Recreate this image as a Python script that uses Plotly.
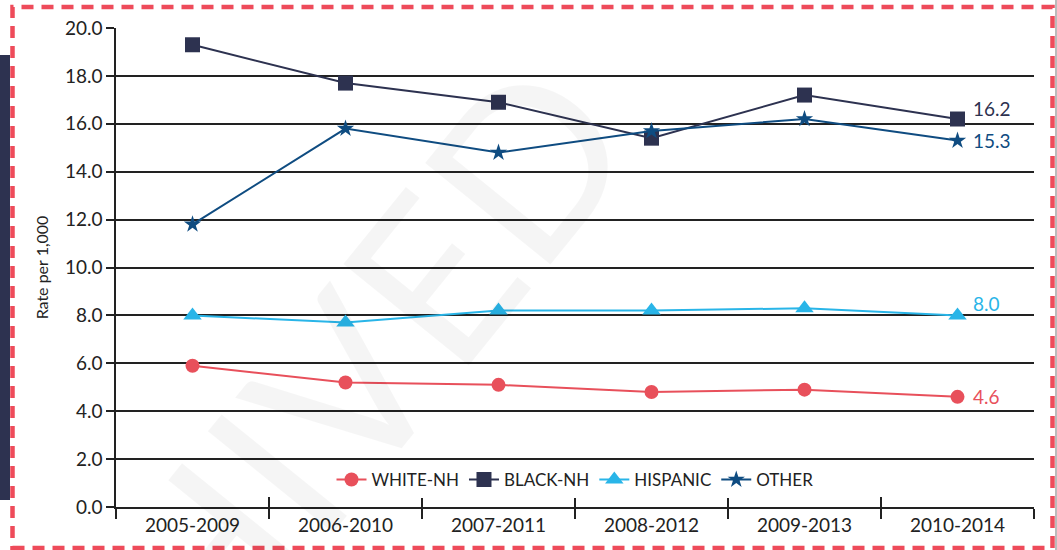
import plotly.graph_objects as go

categories = ["2005-2009", "2006-2010", "2007-2011", "2008-2012", "2009-2013", "2010-2014"]
white_nh = [5.9, 5.2, 5.1, 4.8, 4.9, 4.6]
black_nh = [19.3, 17.7, 16.9, 15.4, 17.2, 16.2]
hispanic = [8.0, 7.7, 8.2, 8.2, 8.3, 8.0]
other = [11.8, 15.8, 14.8, 15.7, 16.2, 15.3]
y_ticks = [0, 2, 4, 6, 8, 10, 12, 14, 16, 18, 20]

W, H = 1057, 550
ML, MR, MT, MB = 116, 23, 28, 43
PW, PH = W - ML - MR, H - MT - MB
FONT = "Lato"
INK = "#222222"

series = [
    ("WHITE-NH", white_nh, "#E8505B", "circle", 14, 0),
    ("BLACK-NH", black_nh, "#2D3250", "square", 15, 11),
    ("HISPANIC", hispanic, "#29B5E8", "triangle-up", 16, 12),
    ("OTHER", other, "#0F4C81", "star", 13, 0),
]

fig = go.Figure()
for name, vals, col, sym, size, _ in series:
    fig.add_trace(go.Scatter(
        x=categories, y=vals, name=name, mode="lines+markers",
        line=dict(color=col, width=2),
        marker=dict(symbol=sym, size=size, color=col),
    ))

# helper trace for the inside half of the x ticks
fig.add_trace(go.Scatter(x=categories, y=[None] * len(categories), xaxis="x2",
                         showlegend=False, hoverinfo="skip", mode="lines"))

annotations = []
for name, vals, col, sym, size, ysh in series:
    annotations.append(dict(
        x=categories[-1], y=vals[-1], xref="x", yref="y",
        text=f"{vals[-1]:.1f}", showarrow=False, xanchor="left", yanchor="middle",
        xshift=13, yshift=ysh, font=dict(family=FONT, size=19, color=col),
    ))

def px(x):
    return (x - ML) / PW

def py(y):
    return (H - MB - y) / PH

# faint watermark
annotations.append(dict(
    x=px(222), y=py(532), xref="paper", yref="paper", text="ARCHIVED",
    showarrow=False, textangle=-51, font=dict(family=FONT, size=225, color="rgba(0,0,0,0.04)"),
    xanchor="center", yanchor="middle",
))

shapes = [
    dict(type="rect", xref="paper", yref="paper", x0=px(0), x1=px(10), y0=py(500), y1=py(55),
         fillcolor="#2D3250", line=dict(width=0), layer="below"),
    dict(type="rect", xref="paper", yref="paper", x0=px(12.5), x1=px(1052.5), y0=py(548), y1=py(7),
         fillcolor="rgba(0,0,0,0)", line=dict(color="#EE4B5A", width=4.5, dash="12px,8px")),
    dict(type="line", xref="paper", yref="paper", x0=px(1056), x1=px(1056), y0=py(550), y1=py(0),
         line=dict(color="#bbbbbb", width=2)),
]

fig.update_layout(
    width=W, height=H,
    margin=dict(l=ML, r=MR, t=MT, b=MB),
    paper_bgcolor="white", plot_bgcolor="white",
    font=dict(family=FONT, size=19, color=INK),
    showlegend=True,
    legend=dict(orientation="h", x=0.5, xanchor="center", y=py(480), yanchor="middle",
                bgcolor="white", font=dict(family=FONT, size=17, color=INK),
                itemwidth=30, tracegroupgap=0),
    xaxis=dict(type="category", categoryarray=categories, range=[-0.5, len(categories) - 0.5],
               showgrid=False, showline=True, linecolor=INK, linewidth=1.5,
               ticks="outside", tickson="boundaries", ticklen=10, tickwidth=1.5, tickcolor=INK,
               tickfont=dict(family=FONT, size=19, color=INK), zeroline=False, fixedrange=True),
    xaxis2=dict(type="category", categoryarray=categories, range=[-0.5, len(categories) - 0.5],
                overlaying="x", anchor="y", side="bottom", showgrid=False, showline=False,
                ticks="inside", tickson="boundaries", ticklen=10, tickwidth=1.5, tickcolor=INK,
                showticklabels=False, zeroline=False),
    yaxis=dict(range=[0, 20], tickvals=y_ticks, tickformat=".1f",
               showgrid=True, gridcolor=INK, gridwidth=1.5,
               showline=True, linecolor=INK, linewidth=1.5,
               ticks="outside", ticklen=8, tickwidth=1.5, tickcolor=INK,
               tickfont=dict(family=FONT, size=19, color=INK), zeroline=False,
               title=dict(text="Rate per 1,000", font=dict(family=FONT, size=16, color=INK), standoff=12)),
    annotations=annotations,
    shapes=shapes,
)

fig.write_html("out.html", config={"displayModeBar": False},
               post_script="document.body.style.margin='0';document.body.style.overflow='hidden';")
